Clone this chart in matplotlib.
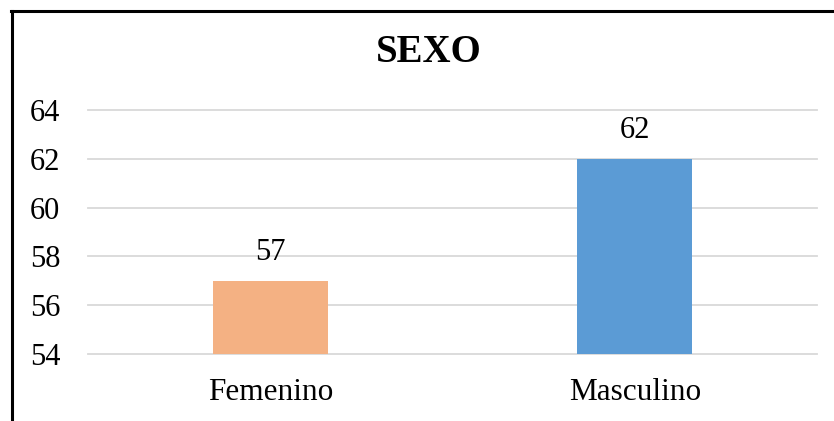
import matplotlib.pyplot as plt
from matplotlib.lines import Line2D

categories = ["Femenino", "Masculino"]
values = [57, 62]
colors = ["#F4B183", "#5B9BD5"]
yticks = [54, 56, 58, 60, 62, 64]

plt.rcParams['font.family'] = ['Liberation Serif', 'DejaVu Serif']

fig = plt.figure(figsize=(8.34, 4.21), dpi=100)
ax = fig.add_axes([88 / 834, 1 - 354 / 421, 729 / 834, 244 / 421])

x = range(len(categories))
bars = ax.bar(x, values, width=0.315, color=colors, zorder=3)
for b, v in zip(bars, values):
    ax.text(b.get_x() + b.get_width() / 2, v + 0.55, str(v),
            ha='center', va='bottom', fontsize=22)

ax.set_xlim(-0.5, 1.5)
ax.set_ylim(54, 64)
ax.set_yticks(yticks)
ax.set_xticks(list(x))
ax.set_xticklabels(categories, fontsize=22.5)
ax.tick_params(axis='y', labelsize=22, length=0, pad=20)
ax.tick_params(axis='x', length=0, pad=17)
ax.grid(axis='y', color='#D9D9D9', linewidth=1.3, zorder=0)
for gl in ax.get_ygridlines():
    gl.set_clip_on(False)
for s in ax.spines.values():
    s.set_visible(False)

fig.text(429 / 834, 1 - 52 / 421, "SEXO", ha='center', va='center',
         fontsize=28, fontweight='bold')

# outer frame (left and top edges)
fig.add_artist(Line2D([12 / 834, 12 / 834], [0, 1 - 11 / 421], color='black',
                      linewidth=2.2, transform=fig.transFigure))
fig.add_artist(Line2D([11 / 834, 1], [1 - 11 / 421, 1 - 11 / 421], color='black',
                      linewidth=2.2, transform=fig.transFigure))

fig.savefig("out.png", dpi=100)
